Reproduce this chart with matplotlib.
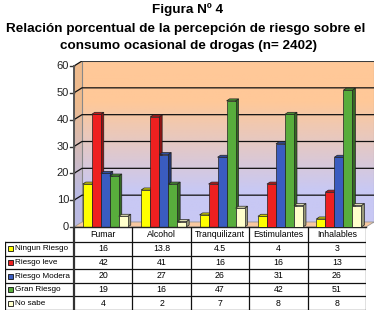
import numpy as np
import matplotlib
matplotlib.use('Agg')
import matplotlib.pyplot as plt
from matplotlib.patches import Polygon, Rectangle
from matplotlib.colors import to_rgb

plt.rcParams['font.family'] = ['Liberation Sans', 'DejaVu Sans']

# data
categories = ['Fumar', 'Alcohol', 'Tranquilizant', 'Estimulantes', 'Inhalables']
series = ['Ningun Riesgo', 'Riesgo leve', 'Riesgo Modera', 'Gran Riesgo', 'No sabe']
ningun_riesgo = [16, 13.8, 4.5, 4, 3]
riesgo_leve = [42, 41, 16, 16, 13]
riesgo_moderado = [20, 27, 26, 31, 26]
gran_riesgo = [19, 16, 47, 42, 51]
no_sabe = [4, 2, 7, 8, 8]
y_ticks = [0, 10, 20, 30, 40, 50, 60]

values = [ningun_riesgo, riesgo_leve, riesgo_moderado, gran_riesgo, no_sabe]
colors = ['#ffff00', '#ee2020', '#3a5cc0', '#58ad3c', '#ffffcc']

W, H = 377, 315
fig = plt.figure(figsize=(W / 100, H / 100), dpi=100)
fig.patch.set_facecolor('white')

# titles
fig.text(188 / W, 1 - 10 / H, 'Figura Nº 4', ha='center', va='center',
         fontsize=9.7, fontweight='bold')
fig.text(186 / W, 1 - 29 / H,
         'Relación porcentual de la percepción de riesgo sobre el',
         ha='center', va='center', fontsize=9.7, fontweight='bold')
fig.text(188 / W, 1 - 46 / H, 'consumo ocasional de drogas (n= 2402)',
         ha='center', va='center', fontsize=9.7, fontweight='bold')

# chart area (pixel geometry of the original)
ux = 58.4            # px per category
uy = 161 / 60        # px per unit
dx = 8 / ux          # depth offset
dy = 5 / uy
ax = fig.add_axes([74 / W, 1 - 227 / H, 300 / W, 166 / H])
ax.set_xlim(0, 300 / ux)
ax.set_ylim(0, 166 / uy)
ax.axis('off')
ncat = len(categories)
ymax = y_ticks[-1]

# gradient for walls
top_c = np.array(to_rgb('#ffc898'))
bot_c = np.array(to_rgb('#c8c8f4'))
t = np.linspace(0, 1, 200)[:, None]
t = np.clip((t - 0.2) / 0.55, 0, 1)
grad = (bot_c * (1 - t) + top_c * t)[:, None, :]

back = Polygon([(dx, dy), (ncat + dx, dy), (ncat + dx, ymax + dy), (dx, ymax + dy)],
               closed=True, facecolor='none', edgecolor='#888888', lw=0.8, zorder=2)
ax.add_patch(back)
im = ax.imshow(grad, extent=(dx, ncat + dx, dy, ymax + dy), origin='lower',
               aspect='auto', zorder=1)
im.set_clip_path(back)

side = Polygon([(0, 0), (dx, dy), (dx, ymax + dy), (0, ymax)], closed=True,
               facecolor='none', edgecolor='none', zorder=1)
ax.add_patch(side)
im2 = ax.imshow(grad * 0.93, extent=(0, dx, 0, ymax + dy), origin='lower',
                aspect='auto', zorder=1)
im2.set_clip_path(side)

floor = Polygon([(0, 0), (ncat, 0), (ncat + dx, dy), (dx, dy)], closed=True,
                facecolor='#f8c8a0', edgecolor='#999999', lw=0.6, zorder=2)
ax.add_patch(floor)

# gridlines and ticks
for v in y_ticks[1:]:
    ax.plot([0, dx, ncat + dx], [v, v + dy, v + dy], color='#111111', lw=0.9, zorder=3)
for v in y_ticks:
    ax.plot([-4 / ux, 0], [v, v], color='#333333', lw=1, clip_on=False, zorder=3)
    ax.text(-5 / ux, v, str(v), ha='right', va='center', fontsize=8,
            color='#222222', clip_on=False)
ax.plot([0, 0], [0, ymax], color='#555555', lw=1.4, clip_on=False, zorder=3)
ax.plot([0, ncat], [0, 0], color='#222222', lw=1, clip_on=False, zorder=20)

# 3D bars
bw = 9 / ux
bdx = 3 / ux
bdy = 2 / uy


def shade(c, f):
    return tuple(np.clip(np.array(to_rgb(c)) * f, 0, 1))


for i in range(ncat):
    for j, vals in enumerate(values):
        v = vals[i]
        x0 = i + 0.15 + j * bw
        z = 5 + i * 5 + j
        ax.add_patch(Polygon([(x0 + bw, 0), (x0 + bw + bdx, bdy), (x0 + bw + bdx, v + bdy),
                              (x0 + bw, v)], closed=True, facecolor=shade(colors[j], 0.6),
                             edgecolor='#222222', lw=0.5, zorder=z))
        ax.add_patch(Polygon([(x0, v), (x0 + bdx, v + bdy), (x0 + bw + bdx, v + bdy),
                              (x0 + bw, v)], closed=True, facecolor=shade(colors[j], 0.85),
                             edgecolor='#222222', lw=0.5, zorder=z))
        ax.add_patch(Rectangle((x0, 0), bw, v, facecolor=colors[j],
                               edgecolor='#222222', lw=0.5, zorder=z + 0.5))

# data table
tab = fig.add_axes([5 / W, 1 - 310 / H, 361 / W, 83 / H])
left = -69 / ux
tab.set_xlim(left, ncat)
hdr = 15 / 13.6
tab.set_ylim(len(series), -hdr)
tab.axis('off')

for r in range(len(series) + 1):
    tab.plot([left, ncat], [r, r], color='#111111', lw=0.9)
tab.plot([left, left], [0, len(series)], color='#111111', lw=0.9)
tab.plot([0, 0], [-hdr, len(series)], color='#333333', lw=1.6)
for c in range(1, ncat + 1):
    tab.plot([c, c], [-hdr, len(series)], color='#111111', lw=0.9)
tab.plot([ncat + 0.02, ncat + 0.02], [0.1, len(series) + 0.05], color='#aaaaaa', lw=0.8)
tab.plot([left + 0.03, ncat + 0.02], [len(series) + 0.08, len(series) + 0.08],
         color='#aaaaaa', lw=0.8)

for c, name in enumerate(categories):
    tab.text(c + 0.5, -hdr / 2, name, ha='center', va='center', fontsize=6.3)
kw = 5 / ux
kh = 5 / 13.6
for r, name in enumerate(series):
    tab.add_patch(Rectangle((left + 3 / ux, r + 0.5 - kh / 2), kw, kh,
                            facecolor=colors[r], edgecolor='#111111', lw=0.6))
    tab.text(left + 10 / ux, r + 0.5, name, ha='left', va='center', fontsize=5.9)
    for c in range(ncat):
        tab.text(c + 0.5, r + 0.5, f'{values[r][c]:g}', ha='center', va='center',
                 fontsize=6.3)

fig.savefig('out.png', dpi=100)
